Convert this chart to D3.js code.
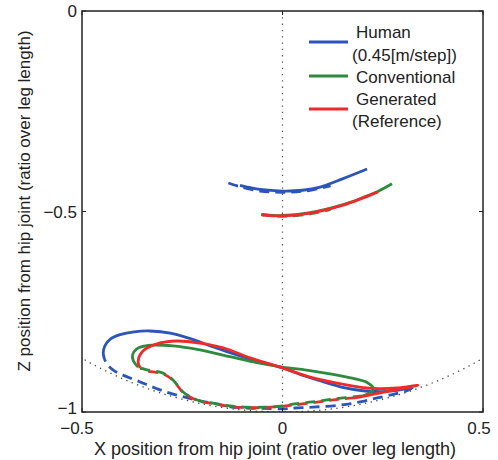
<!DOCTYPE html>
<html><head><meta charset="utf-8">
<script src="https://cdn.jsdelivr.net/npm/d3@7"></script>
<style>body{margin:0;background:#fff}svg{display:block}text{font-family:"Liberation Sans",Arial,sans-serif;fill:#222}</style>
</head><body><svg id="c" width="498" height="460"></svg>
<script>
// ---- data (x, z) in leg-length ratios ----
const xTicks = [-0.5, 0, 0.5];
const zTicks = [0, -0.5, -1];
const seriesNames = ["Human", "(0.45[m/step])", "Conventional", "Generated", "(Reference)"];

const humanStance = [[-0.444,-0.868],[-0.447,-0.853],[-0.443,-0.835],[-0.428,-0.817],[-0.405,-0.807],[-0.370,-0.800],[-0.330,-0.798],[-0.280,-0.803],[-0.230,-0.817],[-0.180,-0.835],[-0.131,-0.852],[-0.064,-0.873],[0.0,-0.890],[0.051,-0.909],[0.081,-0.918],[0.156,-0.940],[0.201,-0.947],[0.250,-0.949],[0.286,-0.946],[0.325,-0.938]];
const humanReturn = [[0.325,-0.938],[0.313,-0.946],[0.281,-0.955],[0.236,-0.965],[0.193,-0.975],[0.143,-0.983],[0.074,-0.988],[0.031,-0.990],[0.0,-0.992],[-0.049,-0.991],[-0.089,-0.990],[-0.131,-0.987],[-0.168,-0.979],[-0.206,-0.972],[-0.243,-0.963],[-0.281,-0.953],[-0.318,-0.940],[-0.355,-0.925],[-0.398,-0.908],[-0.423,-0.895],[-0.438,-0.880],[-0.444,-0.868]];
const humanUpper = [[-0.106,-0.435],[-0.056,-0.445],[0.0,-0.449],[0.05,-0.447],[0.094,-0.439],[0.151,-0.418],[0.211,-0.394]];
const humanUpperDash = [[-0.135,-0.429],[-0.106,-0.438],[-0.056,-0.449],[0.0,-0.452],[0.056,-0.449],[0.12,-0.436]];

const convStance = [[-0.360,-0.888],[-0.372,-0.872],[-0.374,-0.858],[-0.364,-0.843],[-0.335,-0.834],[-0.273,-0.835],[-0.206,-0.845],[-0.131,-0.862],[-0.064,-0.877],[0.0,-0.888],[0.076,-0.898],[0.161,-0.913],[0.212,-0.927],[0.227,-0.942],[0.218,-0.952],[0.200,-0.960]];
const convReturn = [[0.200,-0.960],[0.151,-0.965],[0.111,-0.970],[0.074,-0.975],[0.031,-0.980],[0.0,-0.985],[-0.049,-0.988],[-0.089,-0.988],[-0.131,-0.985],[-0.173,-0.978],[-0.213,-0.970],[-0.248,-0.950],[-0.273,-0.920],[-0.298,-0.903],[-0.338,-0.895],[-0.360,-0.888]];
const convUpper = [[-0.053,-0.507],[0.0,-0.510],[0.069,-0.503],[0.151,-0.483],[0.201,-0.465],[0.238,-0.450],[0.273,-0.431]];
const convUpperDash = [[-0.053,-0.508],[0.0,-0.512],[0.069,-0.506],[0.12,-0.495]];

const genStance = [[-0.355,-0.890],[-0.360,-0.875],[-0.348,-0.848],[-0.313,-0.830],[-0.263,-0.823],[-0.206,-0.828],[-0.148,-0.840],[-0.081,-0.865],[0.0,-0.890],[0.069,-0.913],[0.156,-0.932],[0.201,-0.939],[0.243,-0.942],[0.286,-0.940],[0.338,-0.933],[0.281,-0.945],[0.231,-0.955],[0.181,-0.965]];
const genReturn = [[0.181,-0.965],[0.151,-0.967],[0.111,-0.972],[0.074,-0.977],[0.031,-0.982],[0.0,-0.986],[-0.049,-0.989],[-0.089,-0.989],[-0.131,-0.986],[-0.173,-0.979],[-0.213,-0.971],[-0.248,-0.951],[-0.273,-0.921],[-0.298,-0.905],[-0.338,-0.897],[-0.355,-0.890]];
const genUpper = [[-0.051,-0.509],[0.0,-0.511],[0.069,-0.504],[0.151,-0.484],[0.201,-0.466],[0.238,-0.451]];

const BLUE = "#2b55b8", GREEN = "#2f8a3e", RED = "#ee2b2b";

const svg = d3.select("#c");
const L = 82, R = 483, T = 11, B = 412;
const x = d3.scaleLinear().domain([-0.5, 0.5]).range([L, R]);
const y = d3.scaleLinear().domain([-1, 0]).range([B, T]);

svg.append("clipPath").attr("id","clip").append("rect")
  .attr("x", L).attr("y", T).attr("width", R - L).attr("height", B - T);
const g = svg.append("g").attr("clip-path","url(#clip)");

// unit circle (leg length) reference, dotted
g.append("circle").attr("cx", x(0)).attr("cy", y(0)).attr("r", x(1) - x(0))
  .attr("fill","none").attr("stroke","#444").attr("stroke-width",1.3).attr("stroke-dasharray","1.3,4.5");
// vertical dotted line at x=0
g.append("line").attr("x1", x(0)).attr("x2", x(0)).attr("y1", y(0)).attr("y2", y(-1))
  .attr("stroke","#555").attr("stroke-width",1.3).attr("stroke-dasharray","1.3,5");

const line = d3.line().x(d => x(d[0])).y(d => y(d[1])).curve(d3.curveCatmullRom.alpha(0.5));
function draw(data, color, dashed) {
  g.append("path").attr("d", line(data)).attr("fill","none").attr("stroke", color)
    .attr("stroke-width", 2.8).attr("stroke-linecap","butt").attr("stroke-linejoin","round")
    .attr("stroke-dasharray", dashed ? "10,6" : null);
}
draw(humanStance, BLUE, false);
draw(humanUpper, BLUE, false);
draw(humanReturn, BLUE, true);
draw(humanUpperDash, BLUE, true);
draw(genReturn, RED, true);
draw(convStance, GREEN, false);
draw(convUpper, GREEN, false);
draw(convReturn, GREEN, true);
draw(convUpperDash, GREEN, true);
draw(genStance, RED, false);
draw(genUpper, RED, false);

// axes box
svg.append("rect").attr("x", L).attr("y", T).attr("width", R - L).attr("height", B - T)
  .attr("fill","none").attr("stroke","#222").attr("stroke-width",1.5);
// inward ticks
const fmt = d => d === 0 ? "0" : String(d).replace("-", "\u2212");
[L, R].forEach(px => zTicks.forEach(t => {
  svg.append("line").attr("x1", px).attr("x2", px + (px === L ? 4 : -4)).attr("y1", y(t)).attr("y2", y(t))
    .attr("stroke","#222").attr("stroke-width",1);
}));
[T, B].forEach(py => xTicks.forEach(t => {
  svg.append("line").attr("x1", x(t)).attr("x2", x(t)).attr("y1", py).attr("y2", py + (py === T ? 4 : -4))
    .attr("stroke","#222").attr("stroke-width",1);
}));
// tick labels
zTicks.forEach(t => svg.append("text").attr("x", 77).attr("y", y(t) - (t === -1 ? 4 : 0)).attr("dy","0.36em")
  .attr("text-anchor","end").attr("font-size",17).text(fmt(t)));
xTicks.forEach((t, i) => svg.append("text").attr("x", x(t) + (i === 0 ? -5 : (i === 2 ? -4 : 0))).attr("y", 428).attr("dy","0.36em")
  .attr("text-anchor","middle").attr("font-size",17).text(fmt(t)));

// axis titles
svg.append("text").attr("x", 275).attr("y", 455).attr("text-anchor","middle").attr("font-size",18)
  .text("X position from hip joint (ratio over leg length)");
svg.append("text").attr("transform","translate(30,201) rotate(-90)").attr("text-anchor","middle").attr("font-size",17)
  .text("Z position from hip joint (ratio over leg length)");

// legend
const leg = svg.append("g");
const legLines = [{c: BLUE, y: 42}, {c: GREEN, y: 76}, {c: RED, y: 109}];
legLines.forEach(d => leg.append("line").attr("x1", 309).attr("x2", 348).attr("y1", d.y).attr("y2", d.y)
  .attr("stroke", d.c).attr("stroke-width", 2.8));
const legText = [{t: seriesNames[0], x: 356, y: 38}, {t: seriesNames[1], x: 352, y: 61},
  {t: seriesNames[2], x: 356, y: 83}, {t: seriesNames[3], x: 356, y: 105}, {t: seriesNames[4], x: 352, y: 127}];
legText.forEach(d => leg.append("text").attr("x", d.x).attr("y", d.y).attr("font-size",17).text(d.t));
</script></body></html>
